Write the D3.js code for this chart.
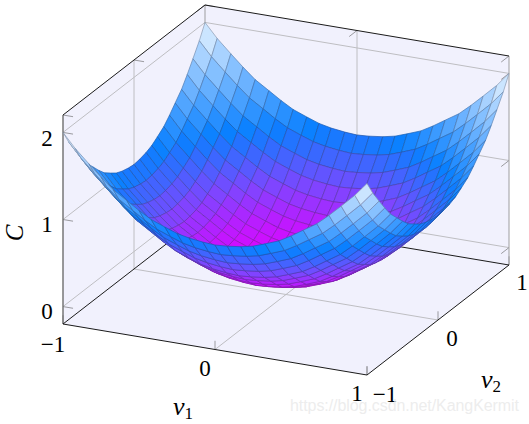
<!DOCTYPE html>
<html>
<head>
<meta charset="utf-8">
<script src="https://cdnjs.cloudflare.com/ajax/libs/d3/7.8.5/d3.min.js"></script>
<style>
  html, body { margin: 0; padding: 0; background: #fff; }
  svg { display: block; }
  text { font-family: "Liberation Serif", serif; fill: #000; }
</style>
</head>
<body>
<svg id="chart" width="529" height="424"></svg>
<script>
var v1Ticks = [-1, 0, 1];
var v2Ticks = [-1, 0, 1];
var zTicks = [0, 1, 2];
var v1Samples = [-1, -0.92, -0.83, -0.75, -0.67, -0.58, -0.5, -0.42, -0.33, -0.25, -0.17, -0.08, 0, 0.08, 0.17, 0.25, 0.33, 0.42, 0.5, 0.58, 0.67, 0.75, 0.83, 0.92, 1];
var v2Samples = [-1, -0.92, -0.83, -0.75, -0.67, -0.58, -0.5, -0.42, -0.33, -0.25, -0.17, -0.08, 0, 0.08, 0.17, 0.25, 0.33, 0.42, 0.5, 0.58, 0.67, 0.75, 0.83, 0.92, 1];
// rows go along v1, columns along v2
var cValues = [
  [2.00,1.84,1.69,1.56,1.44,1.34,1.25,1.17,1.11,1.06,1.03,1.01,1.00,1.01,1.03,1.06,1.11,1.17,1.25,1.34,1.44,1.56,1.69,1.84,2.00],
  [1.84,1.68,1.53,1.40,1.28,1.18,1.09,1.01,0.95,0.90,0.87,0.85,0.84,0.85,0.87,0.90,0.95,1.01,1.09,1.18,1.28,1.40,1.53,1.68,1.84],
  [1.69,1.53,1.38,1.25,1.13,1.03,0.94,0.86,0.80,0.75,0.72,0.70,0.69,0.70,0.72,0.75,0.80,0.86,0.94,1.03,1.13,1.25,1.38,1.53,1.69],
  [1.56,1.40,1.25,1.12,1.00,0.90,0.81,0.73,0.67,0.62,0.59,0.57,0.56,0.57,0.59,0.62,0.67,0.73,0.81,0.90,1.00,1.12,1.25,1.40,1.56],
  [1.44,1.28,1.13,1.00,0.88,0.78,0.69,0.61,0.55,0.50,0.47,0.45,0.44,0.45,0.47,0.50,0.55,0.61,0.69,0.78,0.88,1.00,1.13,1.28,1.44],
  [1.34,1.18,1.03,0.90,0.78,0.68,0.59,0.51,0.45,0.40,0.37,0.35,0.34,0.35,0.37,0.40,0.45,0.51,0.59,0.68,0.78,0.90,1.03,1.18,1.34],
  [1.25,1.09,0.94,0.81,0.69,0.59,0.50,0.42,0.36,0.31,0.28,0.26,0.25,0.26,0.28,0.31,0.36,0.42,0.50,0.59,0.69,0.81,0.94,1.09,1.25],
  [1.17,1.01,0.86,0.73,0.61,0.51,0.42,0.34,0.28,0.23,0.20,0.18,0.17,0.18,0.20,0.23,0.28,0.34,0.42,0.51,0.61,0.73,0.86,1.01,1.17],
  [1.11,0.95,0.80,0.67,0.55,0.45,0.36,0.28,0.22,0.17,0.14,0.12,0.11,0.12,0.14,0.17,0.22,0.28,0.36,0.45,0.55,0.67,0.80,0.95,1.11],
  [1.06,0.90,0.75,0.62,0.50,0.40,0.31,0.23,0.17,0.12,0.09,0.07,0.06,0.07,0.09,0.12,0.17,0.23,0.31,0.40,0.50,0.62,0.75,0.90,1.06],
  [1.03,0.87,0.72,0.59,0.47,0.37,0.28,0.20,0.14,0.09,0.06,0.04,0.03,0.04,0.06,0.09,0.14,0.20,0.28,0.37,0.47,0.59,0.72,0.87,1.03],
  [1.01,0.85,0.70,0.57,0.45,0.35,0.26,0.18,0.12,0.07,0.04,0.02,0.01,0.02,0.04,0.07,0.12,0.18,0.26,0.35,0.45,0.57,0.70,0.85,1.01],
  [1.00,0.84,0.69,0.56,0.44,0.34,0.25,0.17,0.11,0.06,0.03,0.01,0.00,0.01,0.03,0.06,0.11,0.17,0.25,0.34,0.44,0.56,0.69,0.84,1.00],
  [1.01,0.85,0.70,0.57,0.45,0.35,0.26,0.18,0.12,0.07,0.04,0.02,0.01,0.02,0.04,0.07,0.12,0.18,0.26,0.35,0.45,0.57,0.70,0.85,1.01],
  [1.03,0.87,0.72,0.59,0.47,0.37,0.28,0.20,0.14,0.09,0.06,0.04,0.03,0.04,0.06,0.09,0.14,0.20,0.28,0.37,0.47,0.59,0.72,0.87,1.03],
  [1.06,0.90,0.75,0.62,0.50,0.40,0.31,0.23,0.17,0.12,0.09,0.07,0.06,0.07,0.09,0.12,0.17,0.23,0.31,0.40,0.50,0.62,0.75,0.90,1.06],
  [1.11,0.95,0.80,0.67,0.55,0.45,0.36,0.28,0.22,0.17,0.14,0.12,0.11,0.12,0.14,0.17,0.22,0.28,0.36,0.45,0.55,0.67,0.80,0.95,1.11],
  [1.17,1.01,0.86,0.73,0.61,0.51,0.42,0.34,0.28,0.23,0.20,0.18,0.17,0.18,0.20,0.23,0.28,0.34,0.42,0.51,0.61,0.73,0.86,1.01,1.17],
  [1.25,1.09,0.94,0.81,0.69,0.59,0.50,0.42,0.36,0.31,0.28,0.26,0.25,0.26,0.28,0.31,0.36,0.42,0.50,0.59,0.69,0.81,0.94,1.09,1.25],
  [1.34,1.18,1.03,0.90,0.78,0.68,0.59,0.51,0.45,0.40,0.37,0.35,0.34,0.35,0.37,0.40,0.45,0.51,0.59,0.68,0.78,0.90,1.03,1.18,1.34],
  [1.44,1.28,1.13,1.00,0.88,0.78,0.69,0.61,0.55,0.50,0.47,0.45,0.44,0.45,0.47,0.50,0.55,0.61,0.69,0.78,0.88,1.00,1.13,1.28,1.44],
  [1.56,1.40,1.25,1.12,1.00,0.90,0.81,0.73,0.67,0.62,0.59,0.57,0.56,0.57,0.59,0.62,0.67,0.73,0.81,0.90,1.00,1.12,1.25,1.40,1.56],
  [1.69,1.53,1.38,1.25,1.13,1.03,0.94,0.86,0.80,0.75,0.72,0.70,0.69,0.70,0.72,0.75,0.80,0.86,0.94,1.03,1.13,1.25,1.38,1.53,1.69],
  [1.84,1.68,1.53,1.40,1.28,1.18,1.09,1.01,0.95,0.90,0.87,0.85,0.84,0.85,0.87,0.90,0.95,1.01,1.09,1.18,1.28,1.40,1.53,1.68,1.84],
  [2.00,1.84,1.69,1.56,1.44,1.34,1.25,1.17,1.11,1.06,1.03,1.01,1.00,1.01,1.03,1.06,1.11,1.17,1.25,1.34,1.44,1.56,1.69,1.84,2.00]
];

var svg = d3.select("#chart");

// oblique projection, each axis contributes a screen offset from the (-1,-1,zMin) corner
var originX = 63;
var originY = 324;
var zMin = -0.2;
var zMax = 2.2;
var v1ToX = d3.scaleLinear().domain([-1, 1]).range([0, 304]);
var v1ToY = d3.scaleLinear().domain([-1, 1]).range([0, 51]);
var v2ToX = d3.scaleLinear().domain([-1, 1]).range([0, 142]);
var v2ToY = d3.scaleLinear().domain([-1, 1]).range([0, -110]);
var zToY = d3.scaleLinear().domain([zMin, zMax]).range([0, -209]);

var project = function(v1, v2, z) {
  return [
    originX + v1ToX(v1) + v2ToX(v2),
    originY + v1ToY(v1) + v2ToY(v2) + zToY(z)
  ];
};
var line = d3.line();

var color = d3.scaleLinear()
  .domain([0, 0.25, 0.55, 1, 2])
  .range(["#e600ff", "#c018ff", "#7a48ff", "#0a80ff", "#f0f8ff"])
  .clamp(true);

// walls and floor
var walls = [
  [[-1, -1, zMin], [-1, 1, zMin], [-1, 1, zMax], [-1, -1, zMax]],
  [[-1, 1, zMin], [1, 1, zMin], [1, 1, zMax], [-1, 1, zMax]],
  [[-1, -1, zMin], [1, -1, zMin], [1, 1, zMin], [-1, 1, zMin]]
];
svg.append("g")
  .selectAll("path")
  .data(walls)
  .enter()
  .append("path")
  .attr("d", function(d) {
    return line(d.map(function(p) { return project(p[0], p[1], p[2]); })) + "Z";
  })
  .attr("fill", "#f1f1fd")
  .attr("stroke", "none");

var segments = function(parent, data, stroke, width) {
  parent.append("g")
    .selectAll("path")
    .data(data)
    .enter()
    .append("path")
    .attr("d", function(d) {
      return line(d.map(function(p) { return project(p[0], p[1], p[2]); }));
    })
    .attr("fill", "none")
    .attr("stroke", stroke)
    .attr("stroke-width", width);
};

// grid lines on the walls and floor
var grid = [];
v1Ticks.forEach(function(t) {
  if (t === 0) {
    grid.push([[t, -1, zMin], [t, 1, zMin]]);
    grid.push([[t, 1, zMin], [t, 1, zMax]]);
  }
});
v2Ticks.forEach(function(t) {
  if (t === 0) {
    grid.push([[-1, t, zMin], [1, t, zMin]]);
    grid.push([[-1, t, zMin], [-1, t, zMax]]);
  }
});
zTicks.forEach(function(t) {
  grid.push([[-1, -1, t], [-1, 1, t]]);
  grid.push([[-1, 1, t], [1, 1, t]]);
});
segments(svg, grid, "#bebec2", 1);

// tick marks
var v1Len = 0.066;
var v2Len = 0.11;
var zLen = 0.1;
var ticks = [];
v1Ticks.forEach(function(t) {
  ticks.push([[t, -1, zMin], [t, -1, zMin + zLen]]);
  ticks.push([[t, 1, zMax], [t, 1 - v2Len, zMax]]);
});
v2Ticks.forEach(function(t) {
  ticks.push([[1, t, zMin], [1, t, zMin + zLen]]);
  ticks.push([[-1, t, zMax], [-1 + v1Len, t, zMax]]);
});
zTicks.forEach(function(t) {
  ticks.push([[-1, -1, t], [-1 + v1Len, -1, t]]);
  ticks.push([[1, 1, t], [1, 1 - v2Len, t]]);
});
segments(svg, ticks, "#9a9a9f", 1);

// box
segments(svg, [
  [[-1, -1, zMin], [-1, -1, zMax]]
], "#6e6e6e", 1.4);
segments(svg, [
  [[1, 1, zMin], [1, 1, zMax]],
  [[-1, 1, zMin], [-1, 1, zMax]]
], "#a4a4a8", 1.1);
segments(svg, [
  [[-1, -1, zMin], [1, -1, zMin]],
  [[1, -1, zMin], [1, 1, zMin]],
  [[-1, -1, zMin], [-1, 1, zMin]],
  [[-1, 1, zMin], [1, 1, zMin]],
  [[-1, -1, zMax], [-1, 1, zMax]],
  [[-1, 1, zMax], [1, 1, zMax]]
], "#1a1a1a", 1);

// surface, painted from the far corner to the near one
var cells = [];
d3.range(v1Samples.length - 1).forEach(function(i) {
  d3.range(v2Samples.length - 2, -1, -1).forEach(function(j) {
    cells.push({ i: i, j: j });
  });
});
svg.append("g")
  .selectAll("path")
  .data(cells)
  .enter()
  .append("path")
  .attr("d", function(d) {
    var i = d.i;
    var j = d.j;
    return line([
      project(v1Samples[i], v2Samples[j], cValues[i][j]),
      project(v1Samples[i + 1], v2Samples[j], cValues[i + 1][j]),
      project(v1Samples[i + 1], v2Samples[j + 1], cValues[i + 1][j + 1]),
      project(v1Samples[i], v2Samples[j + 1], cValues[i][j + 1])
    ]) + "Z";
  })
  .each(function(d) {
    var i = d.i;
    var j = d.j;
    var mean = (cValues[i][j] + cValues[i + 1][j] + cValues[i + 1][j + 1] + cValues[i][j + 1]) / 4;
    var fill = color(mean);
    d3.select(this)
      .attr("fill", fill)
      .attr("stroke", d3.interpolateRgb(fill, "#223")(0.38))
      .attr("stroke-width", 0.7)
      .attr("stroke-linejoin", "round");
  });

// labels
var labels = svg.append("g").attr("font-size", 23);
var addLabel = function(x, y, s) {
  labels.append("text")
    .attr("x", x)
    .attr("y", y)
    .attr("text-anchor", "middle")
    .text(s);
};
addLabel(47, 146, "2");
addLabel(47, 232, "1");
addLabel(47, 319, "0");
addLabel(53, 352, "\u22121");
addLabel(205, 376, "0");
addLabel(357, 401, "1");
addLabel(385, 402, "\u22121");
addLabel(452, 346, "0");
addLabel(522, 290, "1");

var subLabel = function(x, y, sub) {
  var t = labels.append("text")
    .attr("x", x)
    .attr("y", y)
    .attr("font-size", 26)
    .attr("font-style", "italic");
  t.append("tspan").text("v");
  t.append("tspan")
    .attr("dy", 4)
    .attr("font-size", 17)
    .attr("font-style", "normal")
    .text(sub);
};
subLabel(173, 415, "1");
subLabel(481, 388, "2");

labels.append("text")
  .attr("transform", "translate(23,233) rotate(-90)")
  .attr("text-anchor", "middle")
  .attr("font-size", 25)
  .attr("font-style", "italic")
  .text("C");

// blog watermark
svg.append("text")
  .attr("x", 290)
  .attr("y", 411)
  .attr("textLength", 229)
  .style("font-family", "'Liberation Sans', sans-serif")
  .style("font-size", "16px")
  .style("fill", "#e8e8e8")
  .style("fill-opacity", 0.8)
  .text("https://blog.csdn.net/KangKermit");
</script>
</body>
</html>
